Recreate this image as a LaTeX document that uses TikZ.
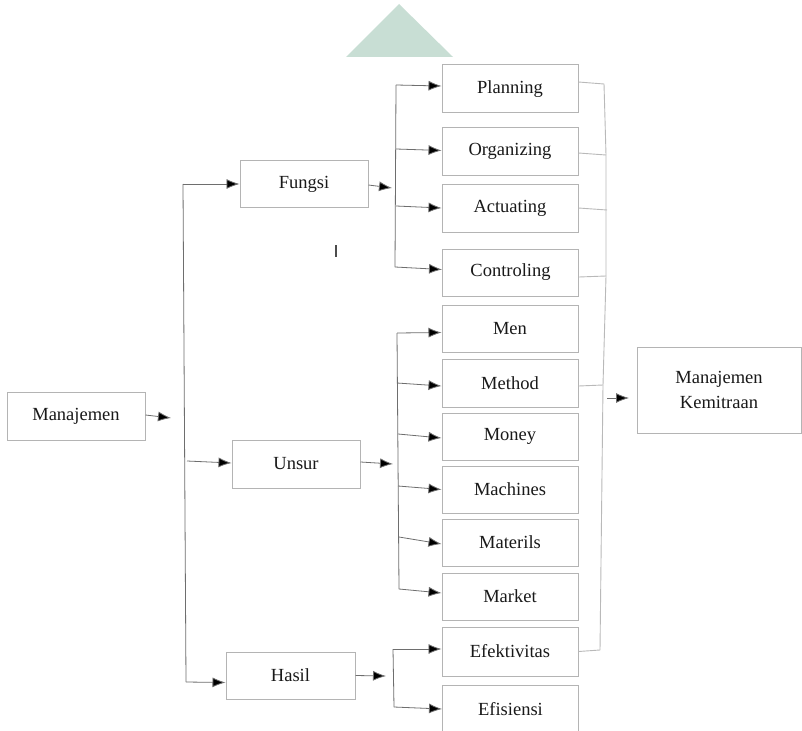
\documentclass[tikz,border=0pt]{standalone}
\usepackage{fontspec}
\setmainfont{Liberation Serif}
\usetikzlibrary{arrows.meta}
\definecolor{tri}{RGB}{200,222,212}
\definecolor{boxc}{RGB}{180,180,180}
\definecolor{linec}{RGB}{110,110,110}
\definecolor{brc}{RGB}{185,185,185}
\tikzset{
  box/.style={draw=boxc, line width=1pt, fill=white, minimum width=136pt, minimum height=48pt, inner sep=0pt, align=center, text=black!90, font=\fontsize{18.5}{25}\selectfont},
  conn/.style={draw=linec, line width=0.8pt},
  arr/.style={conn, -{Latex[length=13pt,width=10pt,fill=black]}},
  rbr/.style={draw=brc, line width=0.9pt},
}
\begin{document}
\begin{tikzpicture}[x=1pt,y=-1pt]
\clip (0,0) rectangle (802,730);
\fill[white] (0,0) rectangle (802,730);
% triangle
\fill[tri] (399,4) -- (453,57) -- (346,57) -- cycle;
% tick mark
\draw[black!70, line width=1.6pt] (336,245) -- (336,257);

% nodes
\node[box, minimum width=138pt] (man) at (76,416) {Manajemen};
\node[box, minimum width=128pt, minimum height=46pt] (fun) at (304,184) {Fungsi};
\node[box, minimum width=128pt] (uns) at (296,464) {Unsur};
\node[box, minimum width=129pt, minimum height=47pt] (has) at (290.5,675.5) {Hasil};

\node[box] (pla) at (510,89) {Planning};
\node[box, minimum height=47pt] (org) at (510,151.5) {Organizing};
\node[box] (act) at (510,208) {Actuating};
\node[box, minimum height=47pt] (con) at (510.5,272.5) {Controling};

\node[box, minimum height=47pt] (men) at (510,328.5) {Men};
\node[box] (met) at (510,383) {Method};
\node[box, minimum height=47pt] (mon) at (510,436.5) {Money};
\node[box, minimum height=47pt] (mac) at (510,489.5) {Machines};
\node[box, minimum height=47pt] (mat) at (510,542.5) {Materils};
\node[box, minimum height=47pt] (mar) at (510,596.5) {Market};

\node[box, minimum height=49pt] (efe) at (510,651.5) {Efektivitas};
\node[box] (efi) at (510.5,709) {Efisiensi};

\node[box, minimum width=164pt, minimum height=86pt] (kem) at (719,390) {Manajemen\\Kemitraan};

% coordinates
\coordinate (mtip) at (171,418);
\coordinate (l1) at (183,184);
\coordinate (l2) at (187,461);
\coordinate (l3) at (186,682);
\coordinate (ftip) at (392,188);
\coordinate (f1) at (396,85);
\coordinate (f2) at (396,149);
\coordinate (f3) at (396,206);
\coordinate (f4) at (395,267);
\coordinate (utip) at (393,464);
\coordinate (u1) at (397,333);
\coordinate (u2) at (397,383);
\coordinate (u3) at (398,434);
\coordinate (u4) at (398,486);
\coordinate (u5) at (399,537);
\coordinate (u6) at (399,589);
\coordinate (htip) at (386,676);
\coordinate (h1) at (393,649);
\coordinate (h2) at (394,707);
\coordinate (r1) at (604,84);
\coordinate (r2) at (606,155);
\coordinate (r3) at (607,210);
\coordinate (r4) at (606,276);
\coordinate (r5) at (603,385);
\coordinate (r6) at (600,650);
\coordinate (ks) at (607,398);
\coordinate (ktip) at (629,398);

% Manajemen
\draw[arr] ([yshift=1pt]man.east) -- (mtip);
\draw[conn] (l1) -- (l3);
\draw[arr] (l1) -- (fun.west);
\draw[arr] (l2) -- ([yshift=1pt]uns.west);
\draw[arr] (l3) -- ([yshift=-7pt]has.west);

% Fungsi
\draw[arr] ([yshift=-1pt]fun.east) -- (ftip);
\draw[conn] (f1) -- (f4);
\draw[arr] (f1) -- ([yshift=3pt]pla.west);
\draw[arr] (f2) -- ([yshift=1pt]org.west);
\draw[arr] (f3) -- (act.west);
\draw[arr] (f4) -- ([yshift=3pt]con.west);

% Unsur
\draw[arr] ([yshift=2pt]uns.east) -- (utip);
\draw[conn] (u1) -- (u6);
\draw[arr] (u1) -- ([yshift=-4pt]men.west);
\draw[arr] (u2) -- ([yshift=-3pt]met.west);
\draw[arr] (u3) -- ([yshift=-1.5pt]mon.west);
\draw[arr] (u4) -- (mac.west);
\draw[arr] (u5) -- ([yshift=-1.5pt]mat.west);
\draw[arr] (u6) -- ([yshift=3.5pt]mar.west);

% Hasil
\draw[arr] (has.east) -- (htip);
\draw[conn] (h1) -- (h2);
\draw[arr] (h1) -- ([yshift=2.5pt]efe.west);
\draw[arr] (h2) -- (efi.west);

% right bracket
\draw[rbr] ([yshift=7pt]pla.east) -- (r1);
\draw[rbr] ([yshift=-1.5pt]org.east) -- (r2);
\draw[rbr] (act.east) -- (r3);
\draw[rbr] ([yshift=-4.5pt]con.east) -- (r4);
\draw[rbr] ([yshift=-3pt]met.east) -- (r5);
\draw[rbr] (efe.east) -- (r6);
\draw[rbr] (r1) -- (r2) -- (r4) -- (r5) -- (r6);
\draw[arr] (ks) -- (ktip);
\end{tikzpicture}
\end{document}
